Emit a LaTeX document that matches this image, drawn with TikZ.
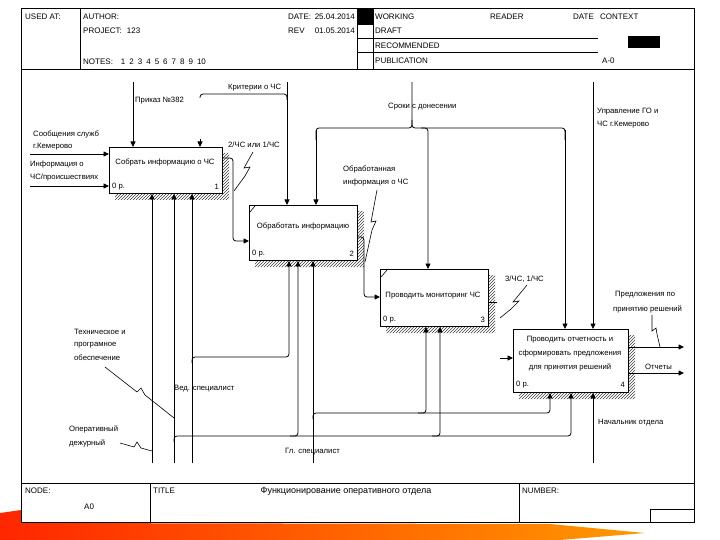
\documentclass[tikz,border=0pt]{standalone}
\usepackage{fontspec}
\setmainfont{Liberation Sans}
\usetikzlibrary{arrows.meta, patterns}

\begin{document}
\begin{tikzpicture}[x=1pt,y=-1pt,
  every node/.style={inner sep=0pt, font=\fontsize{7.7}{9}\selectfont},
  hdr/.style={anchor=west, font=\fontsize{8}{9}\selectfont},
  lbl/.style={anchor=west},
  actbox/.style={draw, line width=0.9pt, fill=white, anchor=north west},
  arr/.style={line width=0.8pt, -{Triangle[length=5.5pt,width=5pt]}, rounded corners=3pt},
  wire/.style={line width=0.8pt, rounded corners=3pt},
  squig/.style={line width=0.6pt},
  hatch/.style={pattern=north east lines, pattern color=black!75},
  rule/.style={line width=0.9pt}]
\useasboundingbox (0,0) rectangle (720,540);
\fill[white] (0,0) rectangle (720,540);
\shade[left color=red!70!orange, right color=orange!80!yellow] (0,513) -- (21,510) -- (21,523) -- (550,524) -- (645,533) -- (560,540) -- (0,540) -- cycle;
\fill[white] (21,483) rectangle (694,522);
\draw[rule] (21,8) rectangle (694,522);
\draw[rule] (21,69) -- (694,69);
\draw[rule] (21,483) -- (694,483);
\draw[rule] (80,8) -- (80,69);
\draw[rule] (357,8) -- (357,69);
\draw[rule] (373,8) -- (373,69);
\fill (357,8) rectangle (373,25);
\draw[rule] (357,38) -- (598,38);
\draw[rule] (357,52) -- (598,52);
\fill (628,36) rectangle (660,48);
\draw[rule] (150,483) -- (150,522);
\draw[rule] (519,483) -- (519,522);
\draw[rule] (650,509) rectangle (694,522);
\node[hdr] (usedat) at (25,17) {USED AT:};
\node[hdr] (author) at (83,17) {AUTHOR:};
\node[hdr] (project) at (83,31) {PROJECT:\hspace{5pt}123};
\node[hdr] (notes) at (83,62) {NOTES:\hspace{8pt}1\hspace{4pt}2\hspace{4pt}3\hspace{4pt}4\hspace{4pt}5\hspace{4pt}6\hspace{4pt}7\hspace{4pt}8\hspace{4pt}9\hspace{4pt}10};
\node[hdr] (date) at (288,17) {DATE:};
\node[hdr, anchor=east] (datev) at (355,17) {25.04.2014};
\node[hdr] (rev) at (288,31) {REV};
\node[hdr, anchor=east] (revv) at (355,31) {01.05.2014};
\node[hdr] (working) at (375,17) {WORKING};
\node[hdr] (reader) at (490,17) {READER};
\node[hdr] (rdate) at (573,17) {DATE};
\node[hdr] (context) at (600,17) {CONTEXT};
\node[hdr] (draft) at (375,31) {DRAFT};
\node[hdr] (recom) at (375,46) {RECOMMENDED};
\node[hdr] (public) at (375,61) {PUBLICATION};
\node[hdr] (ctxnum) at (602,61) {A-0};
\node[hdr] (nodel) at (25,491) {NODE:};
\node[hdr] (nodev) at (84,507) {A0};
\node[hdr] (titlel) at (153,491) {TITLE};
\node[font=\fontsize{9}{10}\selectfont] (titlev) at (346,491) {Функционирование оперативного отдела};
\node[hdr] (numberl) at (522,491) {NUMBER:};
\fill[hatch] (222,153) -- (229,153) -- (229,200) -- (115,200) -- (115,193) -- (222,193) -- cycle;
\fill[hatch] (357,211) -- (364,211) -- (364,267) -- (255,267) -- (255,260) -- (357,260) -- cycle;
\fill[hatch] (488,275) -- (495,275) -- (495,333) -- (386,333) -- (386,326) -- (488,326) -- cycle;
\fill[hatch] (628,335) -- (635,335) -- (635,399) -- (519,399) -- (519,392) -- (628,392) -- cycle;
\node[actbox, minimum width=113pt, minimum height=46pt] (b1) at (109,147) {};
\node[actbox, minimum width=108pt, minimum height=55pt] (b2) at (249,205) {};
\node[actbox, minimum width=108pt, minimum height=57pt] (b3) at (380,269) {};
\node[actbox, minimum width=115pt, minimum height=63pt] (b4) at (513,329) {};
\draw[line width=0.6pt] ([shift={(1pt,-7pt)}]b2.north west) -- ([shift={(6pt,-1pt)}]b2.north west);
\draw[line width=0.6pt] ([shift={(1pt,-8pt)}]b3.north west) -- ([shift={(7pt,-1pt)}]b3.north west);
\node (t1) at (165,162) {Собрать информацию о ЧС};
\node[lbl] (p1) at (112,187) {0 р.};
\node[anchor=east] (k1) at (219,187) {1};
\node (t2) at (303,226) {Обработать информацию};
\node[lbl] (p2) at (252,254) {0 р.};
\node[anchor=east] (k2) at (354,254) {2};
\node (t3) at (433,296) {Проводить мониторинг ЧС};
\node[lbl] (p3) at (383,320) {0 р.};
\node[anchor=east] (k3) at (485,320) {3};
\node[align=center, font=\fontsize{7.7}{14}\selectfont] (t4) at (570,354) {Проводить отчетность и\\сформировать предложения\\для принятия решений};
\node[lbl] (p4) at (516,385) {0 р.};
\node[anchor=east] (k4) at (625,385) {4};
\coordinate (in1) at (30,154);
\coordinate (in2) at (30,186);
\coordinate (ctl1) at (133,82);
\coordinate (ctl2) at (287,82);
\coordinate (ctl3) at (412,82);
\coordinate (ctl4) at (593,82);
\coordinate (kstub) at (200,139);
\coordinate (in4) at (500,358);
\coordinate (out1) at (684,347);
\coordinate (out2) at (684,373);
\coordinate (mech1) at (152,463);
\coordinate (mech2) at (174,463);
\coordinate (mech3) at (192,463);
\coordinate (mech4) at (313,463);
\coordinate (mech5) at (593,463);
\draw[arr] (in1) -- (in1 -| b1.west);
\draw[arr] (in2) -- (in2 -| b1.west);
\draw[arr] (ctl1) -- (ctl1 |- b1.north);
\draw[arr] (ctl2) -- (ctl2 |- b2.north);
\draw[wire] (200,98) -- (200,94) -- (287,94) -- (287,100);
\draw[arr] (kstub) -- (kstub |- b1.north);
\draw[wire] (412,82) -- (412,128) -- (316,128) -- (316,140);
\draw[arr] (316,130) -- (316,128 |- b2.north);
\draw[wire] (412,120) -- (412,128) -- (565,128) -- (565,140);
\draw[arr] (565,130) -- (565,128 |- b4.north);
\draw[arr] (421,128) -- (428,128) -- (428,128 |- b3.north);
\draw[arr] (ctl4) -- (ctl4 |- b4.north);
\draw[arr] ([yshift=-11pt]b1.north east) -- (233,158) -- (233,241) -- (233,241 -| b2.west);
\draw[arr] ([yshift=-32pt]b2.north east) -- (364,237) -- (364,297) -- (364,297 -| b3.west);
\draw[wire] ([yshift=-33pt]b3.north east) -- (497,302);
\draw[arr] (in4) -- (in4 -| b4.west);
\draw[arr] ([yshift=-18pt]b4.north east) -- (out1);
\draw[arr] ([yshift=-44pt]b4.north east) -- (out2);
\draw[arr] (mech1) -- (mech1 |- b1.south);
\draw[arr] (mech2) -- (mech2 |- b1.south);
\draw[arr] (174,442) -- (174,436) -- (571,436) -- (571,436 |- b4.south);
\draw[arr] (290,436) -- (298,436) -- (298,436 |- b2.south);
\draw[arr] (432,436) -- (440,436) -- (440,436 |- b3.south);
\draw[arr] (mech3) -- (mech3 |- b1.south);
\draw[arr] (192,363) -- (192,357) -- (289,357) -- (289,357 |- b2.south);
\draw[arr] (mech4) -- (mech4 |- b2.south);
\draw[arr] (313,419) -- (313,413) -- (550,413) -- (550,413 |- b4.south);
\draw[arr] (418,413) -- (426,413) -- (426,413 |- b3.south);
\draw[arr] (mech5) -- (mech5 |- b4.south);
\node[lbl] (l-soob) at (33,134) {Сообщения служб};
\node[lbl] (l-kem) at (33,147) {г.Кемерово};
\node[lbl] (l-info) at (30,165) {Информация о};
\node[lbl] (l-chs) at (30,178) {ЧС/происшествиях};
\node[lbl] (l-prik) at (135,101) {Приказ №382};
\node[lbl] (l-krit) at (228,88) {Критерии о ЧС};
\node[lbl] (l-out1) at (228,145) {2/ЧС или 1/ЧС};
\node[lbl] (l-srok) at (388,107) {Сроки с донесении};
\node[lbl] (l-obr) at (343,169) {Обработанная};
\node[lbl] (l-obr2) at (343,183) {информация о ЧС};
\node[lbl] (l-upr) at (597,112) {Управление ГО и};
\node[lbl] (l-upr2) at (597,125) {ЧС г.Кемерово};
\node[lbl] (l-out3) at (505,279) {3/ЧС, 1/ЧС};
\node[lbl] (l-pred) at (615,295) {Предложения по};
\node[lbl] (l-pred2) at (613,309) {принятию решений};
\node[lbl] (l-otch) at (645,367) {Отчеты};
\node[lbl] (l-tech) at (74,332) {Техническое и};
\node[lbl] (l-tech2) at (74,345) {програмное};
\node[lbl] (l-tech3) at (74,358) {обеспечение};
\node[lbl] (l-ved) at (174,389) {Вед. специалист};
\node[lbl] (l-oper) at (69,429) {Оперативный};
\node[lbl] (l-oper2) at (69,443) {дежурный};
\node[lbl] (l-gl) at (285,452) {Гл. специалист};
\node[lbl] (l-nach) at (598,423) {Начальник отдела};
\draw[squig] (253,152) -- (244,168) -- (250,167) -- (245,176) -- (234,191);
\draw[squig] (377,190) -- (371,222) -- (376,221) -- (372,230) -- (365,262);
\draw[squig] (527,285) -- (513,302) -- (519,301) -- (511,309) -- (500,318);
\draw[squig] (652,315) -- (652,331) -- (656,328) -- (657,334) -- (660,347);
\draw[squig] (105,367) -- (137,392) -- (141,388) -- (145,395) -- (174,418);
\draw[squig] (120,443) -- (134,447) -- (137,442) -- (141,448) -- (152,451);
\end{tikzpicture}
\end{document}
